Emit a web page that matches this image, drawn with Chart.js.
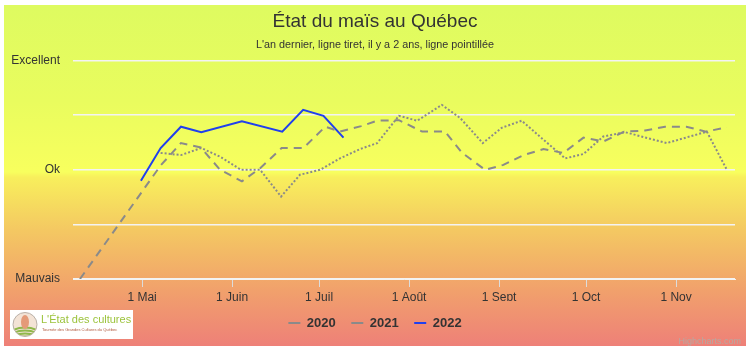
<!DOCTYPE html>
<html>
<head>
<meta charset="utf-8">
<script src="https://cdn.jsdelivr.net/npm/chart.js@4/dist/chart.umd.min.js"></script>
<style>
  html, body { margin: 0; padding: 0; background: #ffffff; }
  #wrap { width: 750px; height: 351px; }
</style>
</head>
<body>
<div id="wrap"><canvas id="c" width="750" height="351"></canvas></div>
<script>
// ---- Data (day of year on x, condition score on y: 0 = Mauvais, 2 = Ok, 4 = Excellent)
const tickDays   = [121, 152, 182, 213, 244, 274, 305];
const tickLabels = ['1 Mai', '1 Juin', '1 Juil', '1 Août', '1 Sept', '1 Oct', '1 Nov'];
const yLabels    = ['Mauvais', '', 'Ok', '', 'Excellent'];
const seriesNames = ['2020', '2021', '2022'];

const days2020   = [127.4, 134.4, 141.4, 147.9, 155.1, 161.7, 168.9, 175.4, 182.3, 189.2, 196.1, 202.0, 209.5, 215.8, 224.3, 230.6, 238.4, 244.9, 251.8, 258.7, 266.8, 273.1, 279.9, 287.4, 301.8, 315.6, 322.5];
const values2020 = [2.31, 2.27, 2.40, 2.24, 2.00, 2.00, 1.51, 1.91, 2.00, 2.21, 2.38, 2.49, 2.99, 2.90, 3.19, 2.95, 2.49, 2.77, 2.90, 2.58, 2.21, 2.29, 2.61, 2.69, 2.49, 2.70, 2.00];

const days2021   = [99.6, 127.4, 134.4, 141.2, 147.9, 155.4, 161.7, 169.1, 176.6, 184.1, 189.2, 196.5, 202.0, 209.5, 217.5, 225.4, 231.3, 239.2, 245.5, 252.4, 259.3, 266.2, 273.1, 280.0, 287.1, 294.3, 301.2, 308.5, 315.3, 322.5];
const values2021 = [0.00, 2.08, 2.49, 2.41, 2.00, 1.79, 2.03, 2.40, 2.40, 2.79, 2.70, 2.80, 2.90, 2.91, 2.70, 2.70, 2.31, 2.00, 2.09, 2.27, 2.38, 2.31, 2.59, 2.52, 2.70, 2.72, 2.79, 2.79, 2.70, 2.78];

const days2022   = [120.6, 127.4, 134.4, 141.4, 155.4, 169.3, 176.5, 183.5, 190.4];
const values2022 = [1.80, 2.40, 2.79, 2.69, 2.89, 2.70, 3.10, 2.99, 2.59];

const FONT = "'Liberation Sans', Arial, sans-serif";

function toPoints(days, vals) { return days.map((d, i) => ({ x: d, y: vals[i] })); }

const bgPlugin = {
  id: 'bg',
  beforeDraw(chart) {
    const ctx = chart.ctx;
    ctx.save();
    ctx.fillStyle = '#ffffff';
    ctx.fillRect(0, 0, chart.width, chart.height);
    const g = ctx.createLinearGradient(0, 5, 0, 346);
    g.addColorStop(0.00, '#defb60');
    g.addColorStop(0.28, '#e9fc5e');
    g.addColorStop(0.49, '#f8ff5e');
    g.addColorStop(0.505, '#f8ef5c');
    g.addColorStop(0.66, '#f4c862');
    g.addColorStop(0.84, '#f1a06c');
    g.addColorStop(1.00, '#ee8078');
    ctx.fillStyle = g;
    ctx.fillRect(4, 5, 742, 341);
    ctx.restore();
  }
};

const decoPlugin = {
  id: 'deco',
  afterDraw(chart) {
    const ctx = chart.ctx;
    ctx.save();
    // logo box
    ctx.fillStyle = '#ffffff';
    ctx.fillRect(10, 310, 123, 29);
    // round emblem
    ctx.beginPath();
    ctx.arc(25, 324.5, 12, 0, Math.PI * 2);
    ctx.fillStyle = '#f3e3d6';
    ctx.fill();
    ctx.strokeStyle = '#b9b0a8';
    ctx.lineWidth = 1;
    ctx.stroke();
    ctx.save();
    ctx.beginPath();
    ctx.arc(25, 324.5, 11.5, 0, Math.PI * 2);
    ctx.clip();
    ctx.strokeStyle = '#8fb84a';
    ctx.lineWidth = 2;
    for (let k = 0; k < 4; k++) {
      ctx.beginPath();
      ctx.moveTo(13, 330 + k * 3);
      ctx.quadraticCurveTo(25, 325 + k * 3, 37, 330 + k * 3);
      ctx.stroke();
    }
    ctx.fillStyle = '#e49a78';
    ctx.beginPath();
    ctx.ellipse(25, 322, 4, 7, 0, 0, Math.PI * 2);
    ctx.fill();
    ctx.restore();
    // logo texts
    ctx.fillStyle = '#9cc33c';
    ctx.font = "11px " + FONT;
    ctx.textBaseline = 'middle';
    ctx.textAlign = 'left';
    ctx.fillText("L'État des cultures", 41, 320);
    ctx.fillStyle = '#b0583c';
    ctx.font = "4px " + FONT;
    ctx.fillText('Tournée des Grandes Cultures du Québec', 42, 330);
    // credits
    ctx.fillStyle = '#b8a8a0';
    ctx.font = "9px " + FONT;
    ctx.textAlign = 'right';
    ctx.fillText('Highcharts.com', 741, 342);
    ctx.restore();
  }
};

const GRAY = '#8a8a8a';
const BLUE = '#2040ee';
const GRID = '#f3f3f3';

new Chart(document.getElementById('c'), {
  type: 'line',
  data: {
    datasets: [
      { label: seriesNames[0], data: toPoints(days2020, values2020), borderColor: GRAY, backgroundColor: GRAY, borderWidth: 2, borderDash: [2, 2], pointRadius: 0, tension: 0, fill: false },
      { label: seriesNames[1], data: toPoints(days2021, values2021), borderColor: GRAY, backgroundColor: GRAY, borderWidth: 2, borderDash: [8, 6], pointRadius: 0, tension: 0, fill: false },
      { label: seriesNames[2], data: toPoints(days2022, values2022), borderColor: BLUE, backgroundColor: BLUE, borderWidth: 2, pointRadius: 0, tension: 0, fill: false }
    ]
  },
  options: {
    responsive: false,
    animation: false,
    devicePixelRatio: 1,
    layout: { padding: { top: 5, left: 10, right: 10, bottom: 11.5 } },
    plugins: {
      title: {
        display: true,
        text: 'État du maïs au Québec',
        color: '#333333',
        font: { family: FONT, size: 19, weight: 'normal' },
        padding: { top: 5.6, bottom: 2 }
      },
      subtitle: {
        display: true,
        text: "L'an dernier, ligne tiret, il y a 2 ans, ligne pointillée",
        color: '#333333',
        font: { family: FONT, size: 10.8, weight: 'normal' },
        padding: { top: 3.1, bottom: 9.2 }
      },
      legend: {
        display: true,
        position: 'bottom',
        labels: {
          usePointStyle: true,
          pointStyle: 'line',
          pointStyleWidth: 12,
          color: '#333333',
          font: { family: FONT, size: 13, weight: 'bold' },
          padding: 15.5
        }
      },
      tooltip: { enabled: false }
    },
    scales: {
      x: {
        type: 'linear',
        min: 97.2,
        max: 325.3,
        afterBuildTicks(s) { s.ticks = tickDays.map(v => ({ value: v })); },
        afterFit(s) { s.height = 22; },
        ticks: {
          autoSkip: false,
          maxRotation: 0,
          padding: 3,
          color: '#333333',
          font: { family: FONT, size: 12 },
          callback: (v, i) => tickLabels[i]
        },
        grid: { drawOnChartArea: false, color: '#dcdcdc', tickLength: 8 },
        border: { color: GRID }
      },
      y: {
        type: 'linear',
        min: 0,
        max: 4,
        afterFit(s) { s.width = 63; },
        ticks: {
          stepSize: 1,
          padding: 13,
          color: '#333333',
          font: { family: FONT, size: 12 },
          callback: (v) => yLabels[v]
        },
        grid: { color: GRID, drawTicks: false, lineWidth: 1.5 },
        border: { display: false }
      },
      yR: {
        type: 'linear',
        position: 'right',
        display: true,
        afterFit(s) { s.width = 5; },
        ticks: { display: false },
        grid: { display: false },
        border: { display: false }
      }
    }
  },
  plugins: [bgPlugin, decoPlugin]
});
</script>
</body>
</html>
